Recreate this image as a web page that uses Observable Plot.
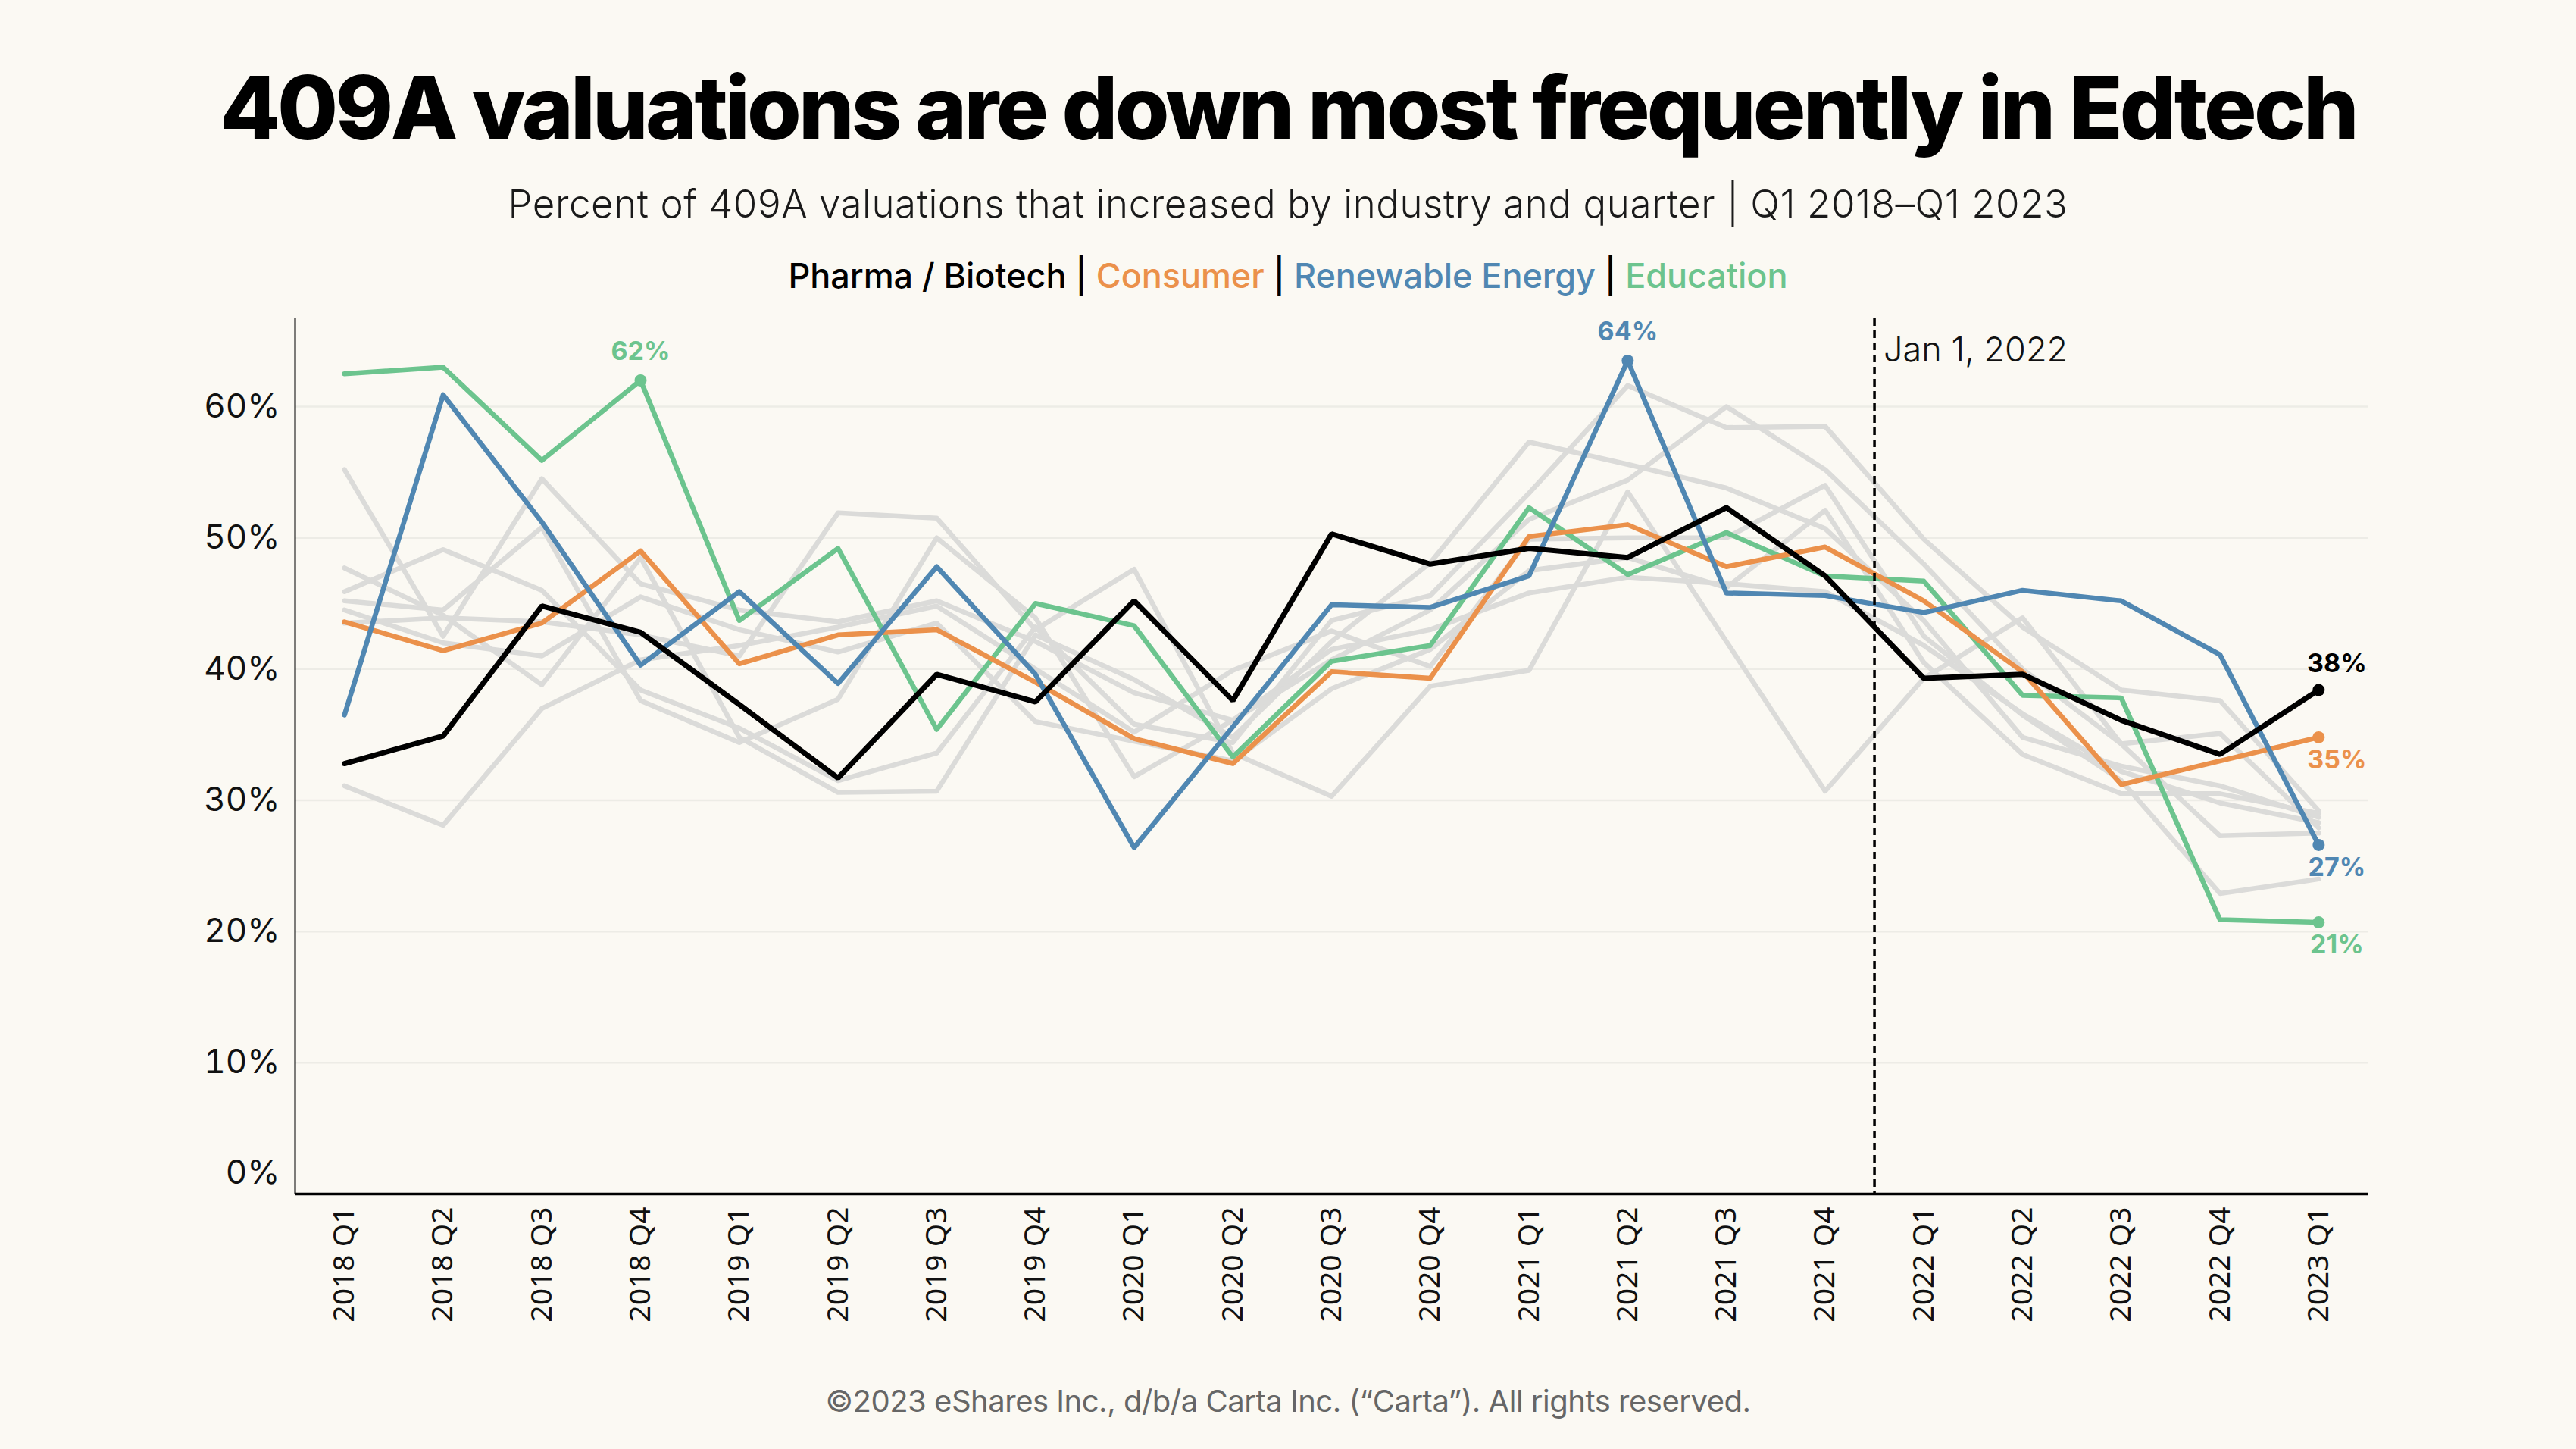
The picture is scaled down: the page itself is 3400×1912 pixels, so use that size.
<!DOCTYPE html>
<html>
<head>
<meta charset="utf-8">
<script src="https://cdn.jsdelivr.net/npm/d3@7"></script>
<script src="https://cdn.jsdelivr.net/npm/@observablehq/plot@0.6"></script>
<style>
  html, body { margin: 0; padding: 0; background: #FBF9F3; }
  body { width: 3400px; height: 1912px; position: relative; overflow: hidden; font-family: Inter, "Noto Sans", sans-serif; color: #111; }
  .t { position: absolute; left: 0; width: 3400px; text-align: center; white-space: nowrap; line-height: 1.2; }
  #title { font-size: 116px; font-weight: 800; color: #000; }
  #subtitle { font-size: 51px; font-weight: 300; color: #1a1a1a; }
  #legend { font-size: 45px; font-weight: 500; color: #000; }
  #footer { font-size: 40px; font-weight: 400; color: #666; }
  #chart { position: absolute; left: 0; top: 380px; }
</style>
</head>
<body>
<div id="title" class="t"><span>409A valuations are down most frequently in Edtech</span></div>
<div id="subtitle" class="t"><span>Percent of 409A valuations that increased by industry and quarter | Q1 2018–Q1 2023</span></div>
<div id="legend" class="t"><span><span style="color:#000">Pharma / Biotech</span> | <span style="color:#EB914B">Consumer</span> | <span style="color:#5087B2">Renewable Energy</span> | <span style="color:#6CC48E">Education</span></span></div>
<div id="chart"></div>
<div id="footer" class="t"><span>©2023 eShares Inc., d/b/a Carta Inc. (“Carta”). All rights reserved.</span></div>
<script>
// ---------- data ----------
const quarters = ["2018 Q1","2018 Q2","2018 Q3","2018 Q4","2019 Q1","2019 Q2","2019 Q3","2019 Q4",
  "2020 Q1","2020 Q2","2020 Q3","2020 Q4","2021 Q1","2021 Q2","2021 Q3","2021 Q4",
  "2022 Q1","2022 Q2","2022 Q3","2022 Q4","2023 Q1"];

const pharmaBiotech   = [32.8, 34.9, 44.8, 42.8, 37.3, 31.7, 39.6, 37.5, 45.2, 37.6, 50.3, 48.0, 49.2, 48.5, 52.3, 47.1, 39.3, 39.6, 36.1, 33.5, 38.4];
const consumer        = [43.6, 41.4, 43.5, 49.0, 40.4, 42.6, 43.0, 39.0, 34.7, 32.8, 39.8, 39.3, 50.1, 51.0, 47.8, 49.3, 45.2, 39.8, 31.2, 33.0, 34.8];
const renewableEnergy = [36.5, 60.9, 51.2, 40.3, 45.9, 38.9, 47.8, 39.6, 26.4, 35.6, 44.9, 44.7, 47.1, 63.5, 45.8, 45.6, 44.3, 46.0, 45.2, 41.1, 26.6];
const education       = [62.5, 63.0, 55.9, 62.0, 43.7, 49.2, 35.4, 45.0, 43.3, 33.3, 40.6, 41.8, 52.3, 47.2, 50.4, 47.1, 46.7, 38.0, 37.8, 20.9, 20.7];

// other industries (grey context lines)
const otherIndustry1 = [55.2, 42.5, 54.5, 46.5, 44.5, 43.6, 45.2, 42.1, 38.2, 36.1, 41.5, 43.0, 45.8, 47.0, 46.5, 45.9, 41.8, 36.6, 32.2, 29.8, 28.3];
const otherIndustry2 = [47.7, 44.1, 38.8, 48.5, 34.8, 30.6, 30.7, 42.6, 39.2, 34.8, 42.1, 48.1, 57.3, 55.6, 53.8, 50.7, 43.7, 34.8, 32.6, 31.1, 28.7];
const otherIndustry3 = [45.9, 49.1, 46.0, 38.4, 35.5, 31.5, 33.6, 43.2, 35.8, 34.4, 43.7, 45.6, 53.4, 61.6, 58.4, 58.5, 49.9, 43.2, 38.4, 37.6, 29.2];
const otherIndustry4 = [45.2, 44.5, 50.8, 37.6, 34.4, 37.7, 50.0, 43.9, 31.8, 36.1, 40.7, 44.5, 51.4, 54.4, 60.0, 55.2, 48.0, 40.0, 34.3, 35.1, 27.9];
const otherIndustry5 = [43.5, 43.9, 43.6, 42.6, 41.0, 51.9, 51.5, 43.0, 47.6, 33.6, 30.3, 38.7, 39.9, 53.5, 42.1, 30.7, 39.3, 43.9, 34.3, 27.3, 27.5];
const otherIndustry6 = [31.1, 28.1, 37.0, 40.7, 41.8, 43.2, 44.8, 40.0, 35.2, 39.9, 42.9, 40.2, 49.9, 50.0, 50.0, 54.0, 42.5, 36.5, 31.5, 22.9, 24.0];
const otherIndustry7 = [44.5, 42.0, 41.0, 45.5, 43.0, 41.3, 43.5, 36.0, 34.5, 33.0, 38.5, 41.5, 47.5, 48.5, 46.2, 52.1, 40.5, 33.5, 30.5, 30.5, 29.0];

const yTicks = [0, 10, 20, 30, 40, 50, 60];
const eventLabel = "Jan 1, 2022";
const eventQuarter = "2022 Q1";

const colors = { pharma: "#000000", consumer: "#EB914B", renewable: "#5087B2", education: "#6CC48E", other: "#DBDBD9" };

// ---------- tables ----------
const others = [otherIndustry1, otherIndustry2, otherIndustry3, otherIndustry4, otherIndustry5, otherIndustry6, otherIndustry7];
const greyRows = others.flatMap((vals, k) => vals.map((v, i) => ({i, value: v, industry: "other" + k})));
const highlighted = [
  {industry: "Education", values: education, color: colors.education},
  {industry: "Consumer", values: consumer, color: colors.consumer},
  {industry: "Renewable Energy", values: renewableEnergy, color: colors.renewable}
];
const hiRows = highlighted.flatMap(s => s.values.map((v, i) => ({i, value: v, industry: s.industry, color: s.color})));
const pharmaRows = pharmaBiotech.map((v, i) => ({i, value: v}));

const last = quarters.length - 1;
const pt = (values, i, color) => ({i, value: values[i], color, text: Math.round(values[i]) + "%"});
const peakLabels = [pt(education, 3, colors.education), pt(renewableEnergy, 13, colors.renewable)];
const endAbove = [pt(pharmaBiotech, last, colors.pharma)];
const endBelow = [pt(consumer, last, colors.consumer), pt(renewableEnergy, last, colors.renewable), pt(education, last, colors.education)];
const dotRows = [...peakLabels, ...endAbove, ...endBelow];

const eventX = quarters.indexOf(eventQuarter) - 0.5;
const xDomain = [-0.5, quarters.length - 0.5];

const chart = Plot.plot({
  width: 3400,
  height: 1400,
  marginLeft: 389,
  marginRight: 275,
  marginTop: 40,
  marginBottom: 205,
  style: {background: "transparent", fontFamily: "Inter, 'Noto Sans', sans-serif", fontSize: "44px", color: "#111"},
  color: {type: "identity"},
  x: {type: "linear", domain: xDomain},
  y: {domain: [0, 66.7]},
  marks: [
    Plot.gridY(yTicks.filter(d => d > 0), {stroke: "#EDECE6", strokeOpacity: 1, strokeWidth: 2.5}),
    Plot.axisY(yTicks.filter(d => d > 0), {tickSize: 0, tickPadding: 20, tickFormat: d => d + "%", label: null, fontSize: 44}),
    Plot.axisY([0], {tickSize: 0, tickPadding: 20, tickFormat: d => d + "%", label: null, fontSize: 44, dy: -28}),
    Plot.axisX(d3.range(quarters.length), {tickSize: 0, tickPadding: 17, tickRotate: -90, tickFormat: i => quarters[i], label: null, fontSize: 39, fontFamily: "'Noto Sans', sans-serif", letterSpacing: 1.5}),
    Plot.line(greyRows, {x: "i", y: "value", z: "industry", stroke: colors.other, strokeWidth: 6.5, strokeLinejoin: "round"}),
    Plot.line(hiRows, {x: "i", y: "value", z: "industry", stroke: "color", strokeWidth: 6.5, strokeLinejoin: "round"}),
    Plot.line(pharmaRows, {x: "i", y: "value", stroke: colors.pharma, strokeWidth: 7, strokeLinejoin: "miter"}),
    Plot.ruleX([eventX], {stroke: "#000", strokeWidth: 3.5, strokeDasharray: "10,6"}),
    Plot.text([eventLabel], {x: eventX, frameAnchor: "top", textAnchor: "start", lineAnchor: "top", dx: 12, dy: 25, fontSize: 45, fontWeight: 300, fill: "#111"}),
    Plot.ruleX([xDomain[0]], {stroke: "#000", strokeWidth: 2}),
    Plot.ruleY([0], {stroke: "#000", strokeWidth: 3.5}),
    Plot.dot(dotRows, {x: "i", y: "value", fill: "color", r: 8}),
    Plot.text(peakLabels, {x: "i", y: "value", text: "text", fill: "color", dy: -38, fontSize: 34, fontWeight: 700}),
    Plot.text(endAbove, {x: "i", y: "value", text: "text", fill: "color", dx: 24, dy: -34, fontSize: 34, fontWeight: 700}),
    Plot.text(endBelow, {x: "i", y: "value", text: "text", fill: "color", dx: 24, dy: 30, fontSize: 34, fontWeight: 700})
  ]
});
document.getElementById("chart").appendChild(chart);

// ---------- fit headline texts to the reference widths and baselines ----------
function fit(id, targetWidth, baseline) {
  const el = document.getElementById(id);
  const span = el.firstElementChild;
  const n = span.textContent.length;
  const w0 = span.getBoundingClientRect().width;
  span.style.letterSpacing = ((targetWidth - w0) / n) + "px";
  const m = document.createElement("span");
  m.style.cssText = "display:inline-block;width:0;height:0;vertical-align:baseline";
  span.appendChild(m);
  const off = m.getBoundingClientRect().bottom - el.getBoundingClientRect().top;
  el.style.top = (baseline - off) + "px";
  m.remove();
}
fit("title", 2820, 184);
fit("subtitle", 2059, 287);
fit("legend", 1319, 380);
fit("footer", 1221, 1863);
</script>
</body>
</html>
